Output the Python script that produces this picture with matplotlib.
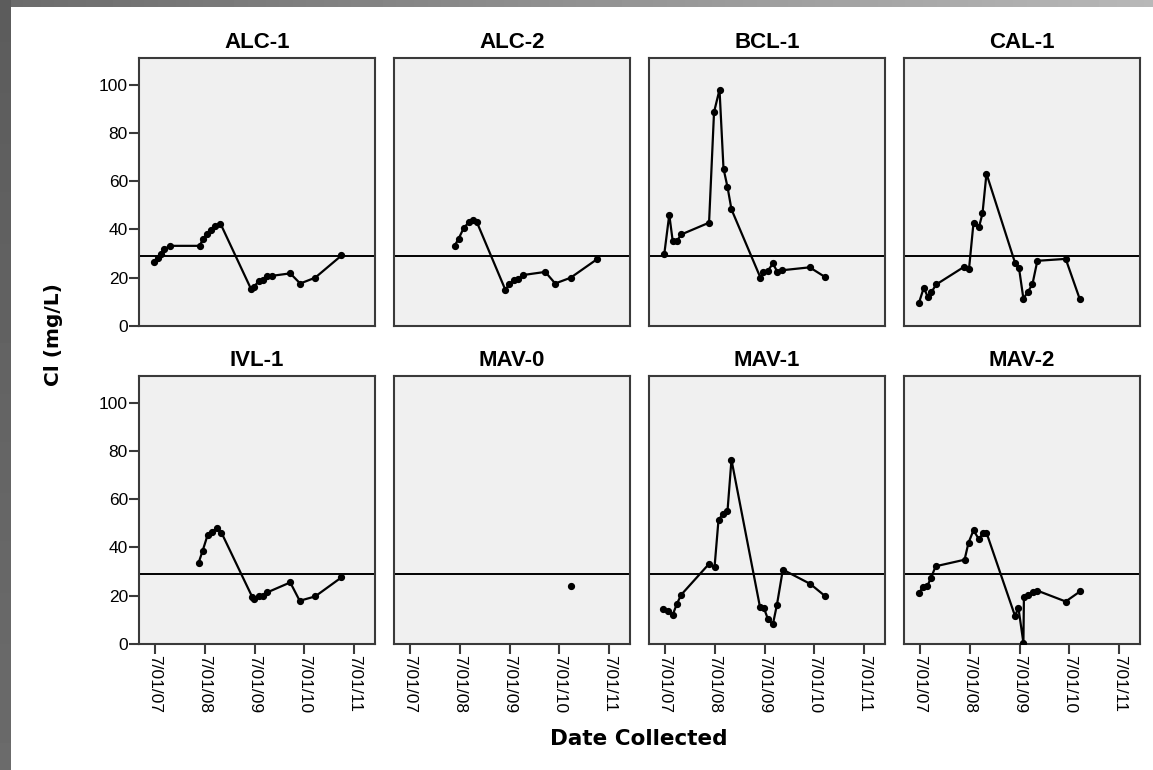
import numpy as np
import matplotlib
matplotlib.use("Agg")
import matplotlib.pyplot as plt
from datetime import datetime, timedelta

# sampling dates as decimal years, Cl in mg/L
alc1_t = [2007.47, 2007.55, 2007.61, 2007.68, 2007.79, 2008.39, 2008.46, 2008.54, 2008.62, 2008.71,
          2008.81, 2009.42, 2009.48, 2009.58, 2009.67, 2009.75, 2009.85, 2010.21, 2010.41, 2010.71, 2011.24]
alc1_v = [26.6, 28.2, 29.7, 31.7, 33.2, 33.2, 36.0, 38.0, 39.7, 41.3,
          42.4, 15.4, 16.2, 18.7, 19.0, 20.7, 20.8, 21.8, 17.6, 20.0, 29.2]

alc2_t = [2008.39, 2008.47, 2008.57, 2008.67, 2008.76, 2008.84, 2009.41, 2009.48, 2009.59, 2009.67,
          2009.76, 2010.21, 2010.41, 2010.72, 2011.26]
alc2_v = [33.2, 36.1, 40.4, 42.9, 43.8, 42.9, 14.9, 17.2, 19.0, 19.3,
          21.1, 22.4, 17.6, 20.0, 27.8]

bcl1_t = [2007.48, 2007.58, 2007.65, 2007.73, 2007.82, 2008.38, 2008.48, 2008.59, 2008.67, 2008.75,
          2008.83, 2009.41, 2009.46, 2009.56, 2009.66, 2009.75, 2009.85, 2010.40, 2010.70]
bcl1_v = [29.8, 46.1, 35.1, 35.1, 37.9, 42.8, 88.6, 97.9, 65.2, 57.6,
          48.3, 20.0, 22.4, 22.9, 25.9, 22.4, 23.1, 24.3, 20.4]

cal1_t = [2007.47, 2007.57, 2007.65, 2007.72, 2007.82, 2008.38, 2008.48, 2008.57, 2008.68, 2008.75,
          2008.83, 2009.40, 2009.48, 2009.57, 2009.66, 2009.75, 2009.85, 2010.42, 2010.70]
cal1_v = [9.4, 15.8, 12.1, 13.9, 17.2, 24.5, 23.7, 42.8, 41.0, 46.6,
          63.1, 26.3, 24.2, 11.3, 14.2, 17.2, 27.0, 27.8, 11.3]

ivl1_t = [2008.37, 2008.45, 2008.55, 2008.64, 2008.74, 2008.83, 2009.45, 2009.48, 2009.58, 2009.67,
          2009.75, 2010.21, 2010.40, 2010.71, 2011.24]
ivl1_v = [33.6, 38.5, 45.0, 46.4, 48.0, 46.1, 19.3, 18.6, 20.0, 19.9,
          21.4, 25.5, 17.9, 19.7, 27.6]

mav0_t = [2010.72]
mav0_v = [23.9]

mav1_t = [2007.45, 2007.55, 2007.65, 2007.73, 2007.82, 2008.38, 2008.49, 2008.57, 2008.66, 2008.75,
          2008.83, 2009.40, 2009.48, 2009.56, 2009.66, 2009.74, 2009.86, 2010.41, 2010.70]
mav1_v = [14.3, 13.5, 12.1, 16.5, 20.4, 33.2, 31.8, 51.5, 53.8, 55.0,
          76.3, 15.4, 14.9, 10.3, 8.2, 16.1, 30.8, 24.9, 20.0]

mav2_t = [2007.47, 2007.55, 2007.64, 2007.71, 2007.81, 2008.39, 2008.47, 2008.57, 2008.68, 2008.76,
          2008.83, 2009.40, 2009.47, 2009.57, 2009.58, 2009.67, 2009.76, 2009.85, 2010.42, 2010.71]
mav2_v = [21.0, 23.5, 23.9, 27.2, 32.2, 34.9, 42.0, 47.1, 43.3, 46.1,
          46.1, 11.7, 14.9, 0.5, 19.3, 20.3, 21.7, 22.1, 17.6, 21.8]

sites = ["ALC-1", "ALC-2", "BCL-1", "CAL-1", "IVL-1", "MAV-0", "MAV-1", "MAV-2"]
times = [alc1_t, alc2_t, bcl1_t, cal1_t, ivl1_t, mav0_t, mav1_t, mav2_t]
values = [alc1_v, alc2_v, bcl1_v, cal1_v, ivl1_v, mav0_v, mav1_v, mav2_v]

ref_level = 29
y_ticks = [0, 20, 40, 60, 80, 100]
x_ticks = [datetime(y, 7, 1) for y in range(2007, 2012)]
x_labels = ["7/01/07", "7/01/08", "7/01/09", "7/01/10", "7/01/11"]


def to_date(y):
    yi = int(y)
    return datetime(yi, 1, 1) + timedelta(days=(y - yi) * 365.25)


W, H = 1153, 770
fig = plt.figure(figsize=(W / 100, H / 100), dpi=100)
fig.patch.set_facecolor("white")

# grey frame strips along the top and left edges
top = fig.add_axes([0, 1 - 7 / H, 1, 7 / H])
top.imshow(np.linspace(0.42, 0.72, 256)[None, :], cmap="gray", vmin=0, vmax=1,
           aspect="auto", extent=[0, 1, 0, 1])
top.axis("off")
left = fig.add_axes([0, 0, 11 / W, 1])
left.imshow(np.linspace(0.36, 0.42, 256)[:, None], cmap="gray", vmin=0, vmax=1,
            aspect="auto", extent=[0, 1, 0, 1])
left.axis("off")

col_x = [139, 394, 649, 904]
row_y = [58, 376]
pw, ph = 236, 268
xlim = (to_date(2007.173), to_date(2011.913))

for i, site in enumerate(sites):
    r, c = divmod(i, 4)
    ax = fig.add_axes([col_x[c] / W, 1 - (row_y[r] + ph) / H, pw / W, ph / H])
    ax.set_facecolor("#f0f0f0")
    ax.axhline(ref_level, color="black", lw=1.4, zorder=2)
    ax.plot([to_date(t) for t in times[i]], values[i], color="black", lw=1.6,
            marker="o", ms=4.2, zorder=3)
    ax.set_xlim(xlim)
    ax.set_ylim(0, 111)
    for s in ax.spines.values():
        s.set_color("#3a3a3a")
        s.set_linewidth(1.5)
    ax.set_title(site, fontsize=16, fontweight="bold", family="Liberation Sans", pad=7)
    ax.set_yticks(y_ticks)
    ax.set_xticks(x_ticks)
    ax.tick_params(direction="out", length=7, width=1.5, color="#3a3a3a",
                   labelsize=12.5, pad=1)
    if c == 0:
        ax.set_yticklabels([str(v) for v in y_ticks], family="Liberation Sans")
    else:
        ax.tick_params(axis="y", left=False, labelleft=False)
    if r == 1:
        ax.set_xticklabels(x_labels, rotation=-90, family="Liberation Sans")
    else:
        ax.tick_params(axis="x", bottom=False, labelbottom=False)

fig.text(54 / W, 1 - 335 / H, "Cl (mg/L)", rotation=90, ha="center", va="center",
         fontsize=14.5, fontweight="bold", family="DejaVu Sans")
fig.text(639 / W, 1 - 739 / H, "Date Collected", ha="center", va="center",
         fontsize=15.5, fontweight="bold", family="DejaVu Sans")

fig.savefig("out.png", dpi=100)
